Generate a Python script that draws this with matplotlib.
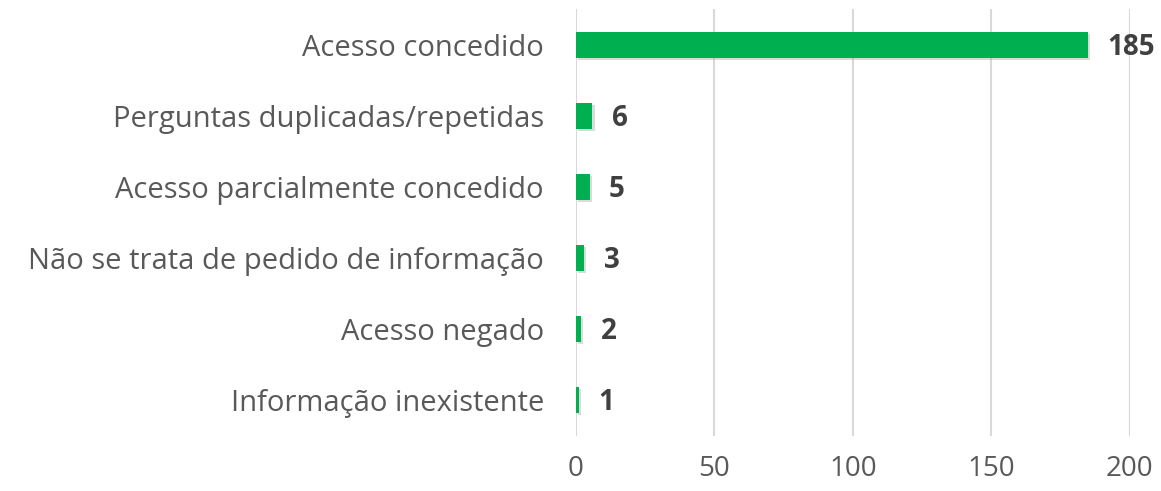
import matplotlib
matplotlib.use("Agg")
import matplotlib.pyplot as plt
from matplotlib import patheffects as pe

categories = ["Acesso concedido", "Perguntas duplicadas/repetidas",
              "Acesso parcialmente concedido", "Não se trata de pedido de informação",
              "Acesso negado", "Informação inexistente"]
values = [185, 6, 5, 3, 2, 1]
xticks = [0, 50, 100, 150, 200]

plt.rcParams['font.family'] = ['Open Sans', 'DejaVu Sans']

fig = plt.figure(figsize=(11.61, 4.91), dpi=100)
ax = fig.add_axes([0.496, 0.113, 0.477, 0.868])

ypos = list(range(len(categories)))
bars = ax.barh(ypos, values, height=0.36, color="#00B050", zorder=3)
for b in bars:
    b.set_path_effects([pe.SimplePatchShadow(offset=(1.5, -1.5), shadow_rgbFace="#999999", alpha=0.35), pe.Normal()])

for y, v in zip(ypos, values):
    ax.text(v + 7, y + 0.04, str(v), va="center", ha="left", fontsize=20,
            fontweight="bold", color="#404040")

ax.set_yticks(ypos)
ax.set_yticklabels(categories, fontsize=21, color="#595959")
ax.set_ylim(len(categories) - 0.5, -0.5)
ax.set_xlim(0, 200)
ax.set_xticks(xticks)
ax.set_xticklabels([str(t) for t in xticks], fontsize=20, color="#595959")
ax.tick_params(axis="both", length=0)
ax.tick_params(axis="y", pad=23)
ax.tick_params(axis="x", pad=14)
ax.xaxis.grid(True, color="#D9D9D9", linewidth=1.5, zorder=0)
for s in ax.spines.values():
    s.set_visible(False)

fig.savefig("out.png", dpi=100)
